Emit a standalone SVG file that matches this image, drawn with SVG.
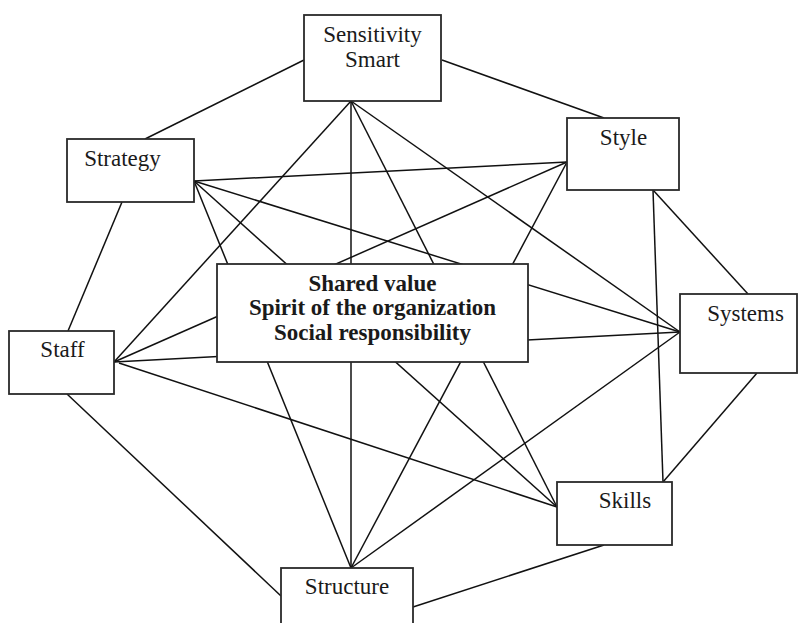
<svg xmlns="http://www.w3.org/2000/svg" width="804" height="623" viewBox="0 0 804 623">
<style>
  .box { fill: #ffffff; stroke: #2a2a2a; stroke-width: 1.8; }
  .edge { stroke: #111111; stroke-width: 1.5; fill: none; }
  .lbl { font-family: 'Liberation Serif', 'DejaVu Serif', serif; font-size: 23px; fill: #1a1a1a; text-anchor: middle; }
  .bold { font-weight: bold; }
</style>
<rect width="804" height="623" fill="#ffffff"/>
<g id="connectors">
  <line class="edge" x1="304" y1="60" x2="145" y2="139"/>
  <line class="edge" x1="442" y1="60" x2="604" y2="118"/>
  <line class="edge" x1="122" y1="202" x2="68" y2="331"/>
  <line class="edge" x1="653" y1="190" x2="748" y2="294"/>
  <line class="edge" x1="653" y1="190" x2="663" y2="482"/>
  <line class="edge" x1="757" y1="373" x2="663" y2="482"/>
  <line class="edge" x1="67" y1="394" x2="281" y2="596"/>
  <line class="edge" x1="413" y1="607" x2="604" y2="545"/>
  <line class="edge" x1="351" y1="101" x2="114" y2="362"/>
  <line class="edge" x1="351" y1="101" x2="351" y2="568"/>
  <line class="edge" x1="351" y1="101" x2="557" y2="507"/>
  <line class="edge" x1="351" y1="101" x2="680" y2="332"/>
  <line class="edge" x1="194" y1="181" x2="567" y2="162"/>
  <line class="edge" x1="194" y1="181" x2="680" y2="332"/>
  <line class="edge" x1="194" y1="181" x2="557" y2="507"/>
  <line class="edge" x1="194" y1="181" x2="351" y2="568"/>
  <line class="edge" x1="114" y1="362" x2="567" y2="162"/>
  <line class="edge" x1="114" y1="362" x2="680" y2="332"/>
  <line class="edge" x1="119" y1="363" x2="557" y2="507"/>
  <line class="edge" x1="567" y1="162" x2="351" y2="568"/>
  <line class="edge" x1="680" y1="332" x2="351" y2="568"/>
</g>
<g font-family="Liberation Serif, DejaVu Serif, serif">
<g id="sensitivity">
  <rect class="box" x="304" y="15" width="137" height="86"/>
  <text class="lbl" x="372.5" y="42">Sensitivity</text>
  <text class="lbl" x="372.5" y="67">Smart</text>
</g>
<g id="strategy">
  <rect class="box" x="67" y="139" width="127" height="63"/>
  <text class="lbl" x="122.5" y="166">Strategy</text>
</g>
<g id="style">
  <rect class="box" x="567" y="118" width="112" height="72"/>
  <text class="lbl" x="623.5" y="145">Style</text>
</g>
<g id="shared-value">
  <rect class="box" x="217" y="264" width="311" height="98"/>
  <text class="lbl bold" x="372.5" y="291">Shared value</text>
  <text class="lbl bold" x="372.5" y="315">Spirit of the organization</text>
  <text class="lbl bold" x="372.5" y="340">Social responsibility</text>
</g>
<g id="staff">
  <rect class="box" x="9" y="331" width="105" height="63"/>
  <text class="lbl" x="62.5" y="357">Staff</text>
</g>
<g id="systems">
  <rect class="box" x="680" y="294" width="117" height="79"/>
  <text class="lbl" x="745.5" y="321">Systems</text>
</g>
<g id="skills">
  <rect class="box" x="557" y="482" width="115" height="63"/>
  <text class="lbl" x="625" y="508">Skills</text>
</g>
<g id="structure">
  <rect class="box" x="281" y="568" width="132" height="70"/>
  <text class="lbl" x="347" y="594">Structure</text>
</g>
</g>
</svg>
